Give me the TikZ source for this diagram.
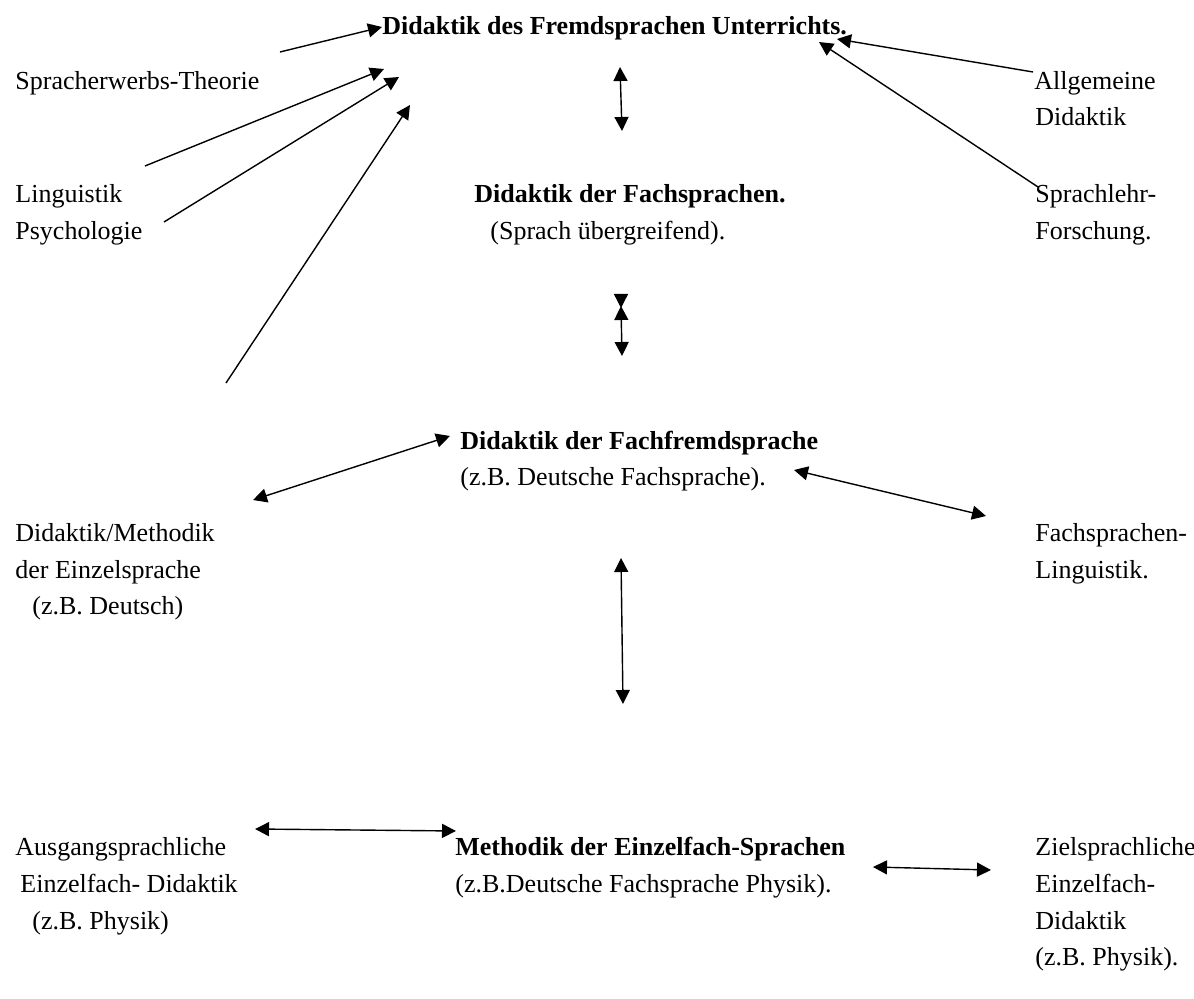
\documentclass[tikz,border=0pt]{standalone}
\usepackage{fontspec}
\setmainfont{Liberation Serif}
\usetikzlibrary{arrows.meta}
\begin{document}
\begin{tikzpicture}[x=0.5pt,y=-0.5pt,
  lbl/.style={anchor=base west,inner sep=0pt,font=\fontsize{13}{16}\selectfont},
  blbl/.style={lbl,font=\fontsize{13}{16}\selectfont\bfseries},
  arr/.style={line width=0.7pt,-{Triangle[length=7pt,width=7pt]}},
  darr/.style={line width=0.7pt,{Triangle[length=7pt,width=7pt]}-{Triangle[length=7pt,width=7pt]}}]
\useasboundingbox (0,0) rectangle (1194,999);
% texts
\node[blbl] (t1) at (382,35) {Didaktik des Fremdsprachen Unterrichts.};
\node[lbl] (spr) at (15,90) {Spracherwerbs-Theorie};
\node[lbl] (all1) at (1034,90) {Allgemeine};
\node[lbl] (all2) at (1035,126) {Didaktik};
\node[lbl] (lin) at (15,203) {Linguistik};
\node[blbl] (t2) at (474,203) {Didaktik der Fachsprachen.};
\node[lbl] (t2b) at (490,240) {(Sprach übergreifend).};
\node[lbl] (sl1) at (1035,203) {Sprachlehr-};
\node[lbl] (psy) at (15,240) {Psychologie};
\node[lbl] (sl2) at (1035,240) {Forschung.};
\node[blbl] (t3) at (460,450) {Didaktik der Fachfremdsprache};
\node[lbl] (t3b) at (460,486) {(z.B. Deutsche Fachsprache).};
\node[lbl] (dm1) at (15,542) {Didaktik/Methodik};
\node[lbl] (dm2) at (15,579) {der Einzelsprache};
\node[lbl] (dm3) at (32,615) {(z.B. Deutsch)};
\node[lbl] (fl1) at (1035,542) {Fachsprachen-};
\node[lbl] (fl2) at (1035,579) {Linguistik.};
\node[lbl] (au1) at (15,855) {Ausgangsprachliche};
\node[lbl] (au2) at (20,892) {Einzelfach- Didaktik};
\node[lbl] (au3) at (32,929) {(z.B. Physik)};
\node[blbl] (t4) at (455,855) {Methodik der Einzelfach-Sprachen};
\node[lbl] (t4b) at (455,892) {(z.B.Deutsche Fachsprache Physik).};
\node[lbl] (zi1) at (1035,855) {Zielsprachliche};
\node[lbl] (zi2) at (1035,892) {Einzelfach-};
\node[lbl] (zi3) at (1035,929) {Didaktik};
\node[lbl] (zi4) at (1035,965) {(z.B. Physik).};
% coordinates
\coordinate (a1s) at (280,52); \coordinate (a1e) at (382,27);
\coordinate (a2s) at (145,166); \coordinate (a2e) at (384,69);
\coordinate (a3s) at (164,222); \coordinate (a3e) at (399,77);
\coordinate (a4s) at (226,383); \coordinate (a4e) at (410,105);
\coordinate (a5s) at (1033,72); \coordinate (a5e) at (837,39);
\coordinate (a6s) at (1038,187); \coordinate (a6e) at (819,42);
\coordinate (v1a) at (620,67); \coordinate (v1b) at (622,131);
\coordinate (v2t) at (621,296); \coordinate (v2a) at (621,308); \coordinate (v2u) at (621,306); \coordinate (v2b) at (622,356);
\coordinate (l1a) at (253,500); \coordinate (l1b) at (450,436);
\coordinate (r1a) at (794,470); \coordinate (r1b) at (986,516);
\coordinate (v3a) at (621,558); \coordinate (v3b) at (623,704);
\coordinate (b1a) at (255,829); \coordinate (b1b) at (456,831);
\coordinate (b2a) at (873,867); \coordinate (b2b) at (991,870);
% connectors
\draw[arr] (a1s) -- (a1e);
\draw[arr] (a2s) -- (a2e);
\draw[arr] (a3s) -- (a3e);
\draw[arr] (a4s) -- (a4e);
\draw[arr] (a5s) -- (a5e);
\draw[arr] (a6s) -- (a6e);
\draw[darr] (v1a) -- (v1b);
\draw[arr] (v2t) -- (v2a);
\draw[darr] (v2u) -- (v2b);
\draw[darr] (l1a) -- (l1b);
\draw[darr] (r1a) -- (r1b);
\draw[darr] (v3a) -- (v3b);
\draw[darr] (b1a) -- (b1b);
\draw[darr] (b2a) -- (b2b);
\end{tikzpicture}
\end{document}
